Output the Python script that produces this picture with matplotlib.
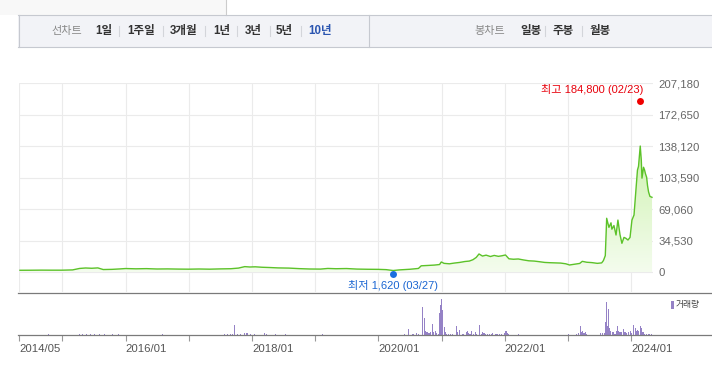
import numpy as np
import matplotlib
matplotlib.use("Agg")
import matplotlib.pyplot as plt
import matplotlib.dates as mdates
from matplotlib.colors import LinearSegmentedColormap
from matplotlib.patches import Rectangle
from matplotlib.lines import Line2D
from matplotlib.transforms import ScaledTranslation

plt.rcParams['font.family'] = ['Liberation Sans', 'Noto Sans CJK KR', 'DejaVu Sans']

# ---------------- data ----------------
price_dates = [
    '2014-05-01', '2014-07-01', '2014-09-01', '2014-11-01', '2015-01-01', '2015-03-01',
    '2015-04-10', '2015-05-15', '2015-06-20', '2015-07-25', '2015-08-25', '2015-10-15',
    '2015-12-01', '2016-01-01', '2016-03-01', '2016-05-01', '2016-07-01', '2016-09-01',
    '2016-11-01', '2017-01-01', '2017-03-01', '2017-05-01', '2017-07-01', '2017-09-01',
    '2017-10-15', '2017-11-20', '2017-12-20', '2018-01-20', '2018-03-01', '2018-04-15',
    '2018-06-01', '2018-08-01', '2018-10-01', '2018-12-01', '2019-02-01', '2019-03-15',
    '2019-05-01', '2019-07-01', '2019-09-01', '2019-11-01', '2020-01-01', '2020-02-15',
    '2020-03-27', '2020-05-01', '2020-07-01', '2020-08-20', '2020-09-05', '2020-10-15',
    '2020-11-20', '2020-12-20', '2020-12-30', '2021-01-15', '2021-02-15', '2021-03-15',
    '2021-04-15', '2021-05-15', '2021-06-10', '2021-07-01', '2021-07-20', '2021-08-05',
    '2021-08-25', '2021-09-15', '2021-10-10', '2021-11-01', '2021-11-25', '2021-12-15',
    '2022-01-05', '2022-01-25', '2022-02-20', '2022-03-20', '2022-04-20', '2022-05-20',
    '2022-06-20', '2022-07-20', '2022-08-20', '2022-09-20', '2022-10-20', '2022-11-20',
    '2022-12-20', '2023-01-10', '2023-02-10', '2023-03-10', '2023-03-25', '2023-04-20',
    '2023-05-20', '2023-06-20', '2023-07-15', '2023-07-25', '2023-08-05', '2023-08-13',
    '2023-08-26', '2023-09-07', '2023-09-12', '2023-09-24', '2023-10-06', '2023-10-17',
    '2023-10-29', '2023-11-09', '2023-11-21', '2023-12-02', '2023-12-14', '2023-12-26',
    '2024-01-06', '2024-01-18', '2024-01-29', '2024-02-07', '2024-02-13', '2024-02-23',
    '2024-02-29', '2024-03-04', '2024-03-13', '2024-03-19', '2024-03-24', '2024-03-31',
    '2024-04-05', '2024-04-11', '2024-04-19', '2024-05-01',
]
price_values = [
    1900, 1950, 2050, 2000, 2000, 2300,
    3900, 4400, 4100, 4500, 2700, 2900,
    3400, 3800, 3500, 3700, 3300, 3400,
    3200, 3100, 3300, 3100, 3400, 3600,
    4300, 5900, 5500, 5700, 5200, 4900,
    4500, 4300, 3700, 3300, 3200, 3900,
    3600, 3800, 3200, 3000, 2900, 2600,
    1620, 2300, 3000, 3900, 6800, 7200,
    7600, 8200, 11000, 9500, 9000, 9800,
    10500, 11500, 12000, 13500, 16000, 19800,
    17500, 18500, 17000, 18200, 17200, 17800,
    18700, 14500, 14000, 14300, 13200, 12300,
    12000, 11300, 10500, 10200, 10000, 9800,
    9000, 7700, 8600, 9400, 11700, 10700,
    10300, 9500, 10000, 12500, 18000, 59000,
    49000, 54000, 47000, 51000, 40600, 57000,
    41000, 31500, 38000, 37000, 35100, 38000,
    57000, 62600, 90000, 112000, 116000, 138300,
    123000, 103000, 115000, 112000, 108000, 104000,
    95000, 88000, 83000, 82000,
]

volume_dates = [
    '2014-10-14', '2015-04-10', '2015-04-25', '2015-05-18', '2015-06-10', '2015-07-03',
    '2015-08-01', '2015-08-30', '2015-10-15', '2015-11-19', '2016-08-01', '2017-07-25',
    '2017-08-10', '2017-08-27', '2017-09-13', '2017-09-21', '2017-10-07', '2017-10-24',
    '2017-11-16', '2017-12-03', '2017-12-21', '2018-01-13', '2018-03-13', '2018-03-27',
    '2018-05-16', '2018-07-13', '2019-02-12',
    '2020-05-30', '2020-06-22', '2020-07-14', '2020-07-25', '2020-08-10', '2020-08-23',
    '2020-09-11', '2020-09-23', '2020-10-01', '2020-10-07', '2020-10-13', '2020-10-20',
    '2020-10-30', '2020-11-08', '2020-11-16', '2020-11-24', '2020-12-04', '2020-12-13',
    '2020-12-19', '2020-12-27', '2020-12-30', '2021-01-05', '2021-01-15', '2021-01-21',
    '2021-01-30', '2021-02-11', '2021-02-23', '2021-03-06', '2021-03-27', '2021-04-04',
    '2021-04-12', '2021-04-17', '2021-04-29', '2021-05-10', '2021-05-22', '2021-05-29',
    '2021-06-07', '2021-06-14', '2021-06-24', '2021-07-03', '2021-07-15', '2021-07-23',
    '2021-08-07', '2021-08-17', '2021-08-24', '2021-09-03', '2021-09-12', '2021-09-23',
    '2021-10-05', '2021-10-16', '2021-10-23', '2021-11-06', '2021-11-17', '2021-11-29',
    '2021-12-14', '2022-01-02', '2022-01-08', '2022-01-16', '2022-01-24', '2022-03-20',
    '2023-01-07', '2023-02-17', '2023-03-02', '2023-03-12', '2023-03-19', '2023-03-27',
    '2023-04-04', '2023-04-11', '2023-04-20', '2023-07-11', '2023-07-20', '2023-07-29',
    '2023-08-05', '2023-08-13', '2023-08-19', '2023-08-22', '2023-08-28', '2023-09-05',
    '2023-09-13', '2023-09-20', '2023-09-30', '2023-10-08', '2023-10-13', '2023-10-19',
    '2023-10-29', '2023-11-06', '2023-11-17', '2023-11-27', '2023-12-07', '2023-12-16',
    '2023-12-26', '2024-01-05', '2024-01-14', '2024-01-24', '2024-01-30', '2024-02-06',
    '2024-02-14', '2024-02-23', '2024-03-03', '2024-03-10', '2024-03-21', '2024-03-31',
    '2024-04-08', '2024-04-19', '2024-04-29',
]
volume_values = [
    1.3, 1.3, 1.3, 1.3, 1.3, 1.0,
    1.3, 1.0, 1.3, 1.0, 1.3, 1.3,
    1.0, 1.3, 1.3, 10.0, 1.3, 1.3,
    2.3, 2.0, 1.3, 1.0, 2.0, 1.3,
    1.0, 1.0, 1.0,
    1.3, 6.0, 1.0, 1.3, 2.0, 1.0,
    27.7, 17.0, 4.0, 3.0, 2.7, 2.0,
    3.0, 11.0, 3.0, 4.0, 2.0, 1.3,
    22.0, 30.0, 36.0, 25.0, 8.0, 3.0,
    1.3, 1.3, 1.3, 1.3, 9.0, 3.0,
    5.0, 2.0, 1.3, 1.3, 3.0, 4.3,
    2.0, 1.3, 3.7, 1.3, 3.0, 1.3,
    10.0, 1.3, 3.0, 2.0, 1.3, 1.3,
    1.3, 1.3, 2.0, 1.3, 1.3, 1.3,
    1.3, 2.0, 4.0, 2.3, 1.0, 1.0,
    1.0, 1.3, 2.0, 9.3, 3.0, 3.7,
    2.0, 3.0, 1.3, 2.0, 2.0, 2.0,
    13.3, 32.7, 9.3, 25.7, 6.7, 4.0,
    3.0, 3.0, 1.3, 4.0, 9.0, 4.0,
    2.7, 3.0, 6.0, 3.0, 2.0, 3.0,
    4.3, 2.0, 10.3, 6.7, 4.0, 5.0,
    4.0, 9.3, 6.7, 3.0, 1.3, 1.3,
    1.0, 1.0, 1.0,
]

y_ticks = [0, 34530, 69060, 103590, 138120, 172650, 207180]
x_tick_dates = ['2014-04-27', '2015-01-01', '2016-01-01', '2017-01-01', '2018-01-01',
                '2019-01-01', '2020-01-01', '2021-01-01', '2022-01-01', '2023-01-01',
                '2024-01-01']
x_tick_labels = ['2014/05', '', '2016/01', '', '2018/01', '', '2020/01', '',
                 '2022/01', '', '2024/01']

high_date, high_value, high_label = '2024-02-23', 184800, '최고 184,800 (02/23)'
low_date, low_value, low_label = '2020-03-27', 1620, '최저 1,620 (03/27)'

tabs_line = ['1일', '1주일', '3개월', '1년', '3년', '5년', '10년']
tabs_candle = ['일봉', '주봉', '월봉']

# ---------------- helpers ----------------
W, H = 712, 368
def fx(x):
    return x / W
def fy(y):
    return 1 - y / H

def d2n(lst):
    return mdates.date2num(np.array(lst, dtype='datetime64[D]'))

pd_ = d2n(price_dates)
pv = np.array(price_values, dtype=float)
vd = d2n(volume_dates)
vv = np.array(volume_values, dtype=float)
xt = d2n(x_tick_dates)
X0 = d2n(['2014-04-27'])[0]
X1 = d2n(['2024-05-05'])[0]

fig = plt.figure(figsize=(W / 100, H / 100), dpi=100)
fig.patch.set_facecolor('white')

# ---------------- top toolbar ----------------
fig.add_artist(Rectangle((fx(0), fy(15)), fx(226), 15 / H, transform=fig.transFigure,
                         facecolor='#f8f8f8', edgecolor='none'))
fig.add_artist(Line2D([fx(226), fx(226)], [fy(0), fy(15)], color='#cccccc', lw=0.8))
fig.add_artist(Rectangle((fx(18), fy(47)), fx(712 - 18), 32 / H, transform=fig.transFigure,
                         facecolor='#f2f3f7', edgecolor='none'))
for yy in (15, 47):
    fig.add_artist(Line2D([fx(18), fx(712)], [fy(yy), fy(yy)], color='#c6c9d0', lw=0.8))
fig.add_artist(Line2D([fx(18.5), fx(18.5)], [fy(15), fy(47)], color='#c6c9d0', lw=0.8))
fig.add_artist(Line2D([fx(369), fx(369)], [fy(15), fy(47)], color='#c6c9d0', lw=0.8))

kfont = ['Liberation Sans', 'Noto Sans CJK KR']
ty = fy(31)
fig.text(fx(51), ty, '선차트', color='#888888', fontsize=8, va='center', family=kfont)
line_x = [95, 127, 170, 213, 245, 276, 308]
sep_line = [119, 163, 205, 237, 270, 301]
for lab, x in zip(tabs_line, line_x):
    fig.text(fx(x), ty, lab, color='#2a55b0' if lab == '10년' else '#333333', fontsize=8.3,
             fontweight='bold', va='center', family=kfont)
for s in sep_line:
    fig.add_artist(Line2D([fx(s), fx(s)], [fy(26), fy(36)], color='#d3d5da', lw=0.8))
fig.text(fx(474), ty, '봉차트', color='#888888', fontsize=8, va='center', family=kfont)
for lab, x in zip(tabs_candle, [520, 553, 590]):
    fig.text(fx(x), ty, lab, color='#333333', fontsize=8.3, fontweight='bold',
             va='center', family=kfont)
for s in (545, 582):
    fig.add_artist(Line2D([fx(s), fx(s)], [fy(26), fy(36)], color='#d3d5da', lw=0.8))

# ---------------- price axes ----------------
ax = fig.add_axes([fx(19.3), fy(292), (652.7 - 19.3) / W, (292 - 83.3) / H])
ax.set_facecolor('none')
ymin = -(292 - 272) * 207180 / (272 - 83.3)

cmap = LinearSegmentedColormap.from_list('g', ['#f4fcee', '#cdf2ad'])
grad = np.linspace(0, 1, 256).reshape(-1, 1)
im = ax.imshow(grad, extent=[X0, X1, 0, 145000], origin='lower', aspect='auto',
               cmap=cmap, zorder=1, interpolation='bilinear')
poly = ax.fill_between(pd_, pv, 0, facecolor='none', edgecolor='none')
im.set_clip_path(poly.get_paths()[0], transform=ax.transData)
ax.plot(pd_, pv, color='#5cc229', lw=1.0, zorder=3, solid_joinstyle='round')

ax.set_xlim(X0, X1)
ax.set_ylim(ymin, 207180)
ax.set_yticks(y_ticks)
ax.set_yticklabels([f'{v:,}' for v in y_ticks])
ax.set_xticks(xt)
ax.yaxis.tick_right()
ax.tick_params(axis='y', length=0, pad=4.0, labelsize=8.2, labelcolor='#666666')
ax.tick_params(axis='x', length=0, labelbottom=False)
ax.grid(True, color='#ebebeb', lw=0.8, zorder=0)
ax.set_axisbelow(True)
for s in ['top', 'right', 'bottom', 'left']:
    ax.spines[s].set_visible(False)

# high / low markers
hx = d2n([high_date])[0]
lx = d2n([low_date])[0]
up = ax.transData + ScaledTranslation(0, 3 / 100, fig.dpi_scale_trans)
dn = ax.transData + ScaledTranslation(0, -3.8 / 100, fig.dpi_scale_trans)
ax.plot([hx], [high_value], 'o', color='#f00000', ms=5, mec='none', transform=up,
        zorder=5, clip_on=False)
ax.plot([lx], [low_value], 'o', color='#1a6ee0', ms=5, mec='none', transform=dn,
        zorder=5, clip_on=False)
ax.annotate(high_label, xy=(hx, high_value), xytext=(2.6, 9.9), textcoords='offset points',
            ha='right', va='center', color='#e8000b', fontsize=8, family=kfont,
            annotation_clip=False)
ax.annotate(low_label, xy=(lx, low_value), xytext=(0, -10.6), textcoords='offset points',
            ha='center', va='center', color='#1b66d2', fontsize=8, family=kfont,
            annotation_clip=False)

# ---------------- volume axes ----------------
ax2 = fig.add_axes([fx(19.3), fy(335), (652.7 - 19.3) / W, (335 - 292) / H])
ax2.set_facecolor('none')
ax2.bar(vd, vv, width=6.0, color='#9582c6', align='center', zorder=2, linewidth=0)
ax2.set_xlim(X0, X1)
ax2.set_ylim(0, 43)
ax2.set_yticks([])
ax2.set_xticks(xt)
ax2.set_xticklabels(x_tick_labels)
for t in ax2.get_xticklabels():
    t.set_ha('left')
ax2.tick_params(axis='x', length=4, width=0.8, color='#999999', pad=2.5,
                labelsize=8.2, labelcolor='#555555')
for s in ['top', 'right', 'left', 'bottom']:
    ax2.spines[s].set_visible(False)

# panel separator & baseline lines spanning to the right edge
fig.add_artist(Line2D([fx(18), fx(712)], [fy(292.5), fy(292.5)], color='#7a7a7a', lw=0.9))
fig.add_artist(Line2D([fx(18), fx(712)], [fy(335.3), fy(335.3)], color='#7a7a7a', lw=0.9))

# legend
fig.add_artist(Rectangle((fx(671), fy(308.5)), 3 / W, 7.5 / H, transform=fig.transFigure,
                         facecolor='#9582c6', edgecolor='none'))
fig.text(fx(676), fy(304.5), '거래량', color='#444444', fontsize=6.3, va='center',
         family=['Noto Sans CJK KR', 'DejaVu Sans'])

fig.savefig('out.png', dpi=100, facecolor='white')
